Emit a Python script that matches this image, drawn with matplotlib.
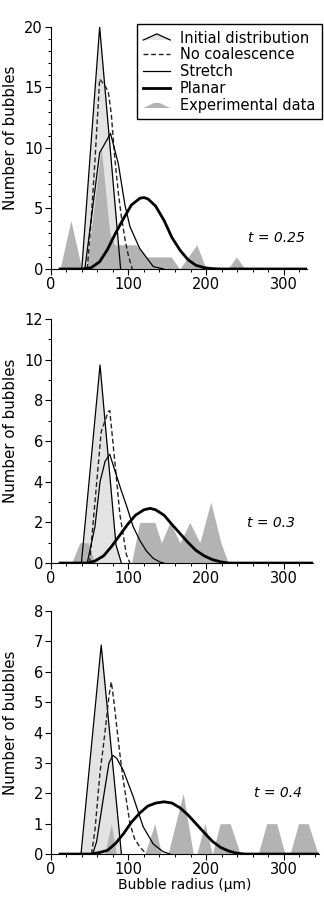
"""Bubble size distributions at three times: models vs. experiment."""

import matplotlib
matplotlib.use("Agg")
import matplotlib.pyplot as plt
from matplotlib.legend_handler import HandlerBase
from matplotlib.lines import Line2D
from matplotlib.patches import Polygon
from matplotlib.ticker import MultipleLocator

# ---- t = 0.25 ----
init_x_1 = [40, 63, 90]
init_y_1 = [0, 20, 0]
nocoal_x_1 = [47, 52, 57, 63, 68, 74, 78, 82, 87, 91, 96, 100, 105]
nocoal_y_1 = [0, 4, 9, 15.7, 15.3, 14.7, 12.8, 9.5, 6.3, 4.3, 2.3, 1.1, 0]
stretch_x_1 = [44, 63, 77, 87, 95.5, 102, 114.5, 132, 145.5]
stretch_y_1 = [0, 9.6, 11.2, 8.7, 5.3, 3.5, 1.7, 0.2, 0]
planar_x_1 = [12, 40, 52, 63, 73, 83, 94, 104, 115, 120, 125, 135, 146, 156, 167, 177, 187, 198, 208, 220, 330]
planar_y_1 = [0, 0, 0.1, 0.6, 1.6, 2.9, 4.2, 5.3, 5.85, 5.9, 5.8, 5.2, 4.0, 2.6, 1.5, 0.75, 0.3, 0.1, 0.03, 0, 0]
exp_x_1 = [12, 26, 40, 46, 65, 76, 82, 110, 123, 155, 166, 188, 200, 228, 239, 250]
exp_y_1 = [0, 4, 0, 0, 10, 3, 2, 2, 1, 1, 0, 2, 0, 0, 1, 0]

# ---- t = 0.3 ----
init_x_2 = [39.5, 63.5, 84, 91]
init_y_2 = [0, 9.74, 0.9, 0]
nocoal_x_2 = [50, 65, 74, 76, 82.5, 89, 97.5, 102]
nocoal_y_2 = [0, 6.46, 7.44, 7.5, 5.0, 2.4, 0.4, 0]
stretch_x_2 = [47, 57, 63.5, 70, 76, 83, 90.5, 98, 106, 114.5, 123, 132, 140.5, 145.5]
stretch_y_2 = [0, 1.8, 4.0, 5.0, 5.35, 4.5, 3.6, 2.77, 1.8, 1.13, 0.6, 0.23, 0.05, 0]
planar_x_2 = [12, 47, 57, 68, 78, 88.5, 99, 109, 120, 128, 135, 146, 156, 166.5, 177, 187, 197.7, 208, 218.5, 229, 340]
planar_y_2 = [0, 0, 0.1, 0.35, 0.8, 1.35, 1.9, 2.35, 2.62, 2.69, 2.62, 2.35, 1.9, 1.45, 1.0, 0.62, 0.35, 0.17, 0.06, 0, 0]
exp_x_2 = [27, 37.5, 48, 57, 104, 114.5, 134, 142.5, 153.5, 166.5, 179, 192, 206, 219, 228.5]
exp_y_2 = [0, 1, 1, 0, 0, 2, 2, 1, 2, 1, 2, 1, 3, 1, 0]

# ---- t = 0.4 ----
init_x_3 = [39, 65, 91]
init_y_3 = [0, 6.88, 0]
nocoal_x_3 = [52.5, 57, 63.5, 67.5, 72, 75, 78, 81, 85, 89, 93, 96, 102, 108, 114.5, 123]
nocoal_y_3 = [0, 0.8, 2.7, 3.5, 4.5, 5.2, 5.67, 5.1, 4.2, 3.3, 2.5, 2.0, 1.0, 0.5, 0.24, 0]
stretch_x_3 = [54, 59, 64.5, 70, 75, 80, 85, 93.5, 106, 119, 132, 144.5, 153.5]
stretch_y_3 = [0, 0.4, 1.3, 2.2, 3.0, 3.25, 3.15, 2.75, 1.9, 0.9, 0.33, 0.08, 0]
planar_x_3 = [12, 52, 62.7, 73, 83.5, 94, 104, 114.6, 125, 135.4, 146, 156, 166.6, 177, 187, 197.7, 208, 218.5, 229, 239, 250, 345]
planar_y_3 = [0, 0, 0.05, 0.12, 0.35, 0.68, 1.05, 1.35, 1.58, 1.68, 1.72, 1.68, 1.52, 1.28, 1.0, 0.7, 0.42, 0.22, 0.1, 0.03, 0, 0]
exp_x_3 = [69.5, 78, 84.5, 121, 134, 142.5, 151, 170.5, 183.5, 188, 198.5, 208, 218, 231, 244,
           267, 278, 291, 301.5, 308, 319, 331.5, 344]
exp_y_3 = [0, 1, 0, 0, 1, 0, 0, 2, 0, 0, 1, 0, 1, 1, 0,
           0, 1, 1, 0, 0, 1, 1, 0]

LIGHT = "#e3e3e3"
DARK = "#b3b3b3"


class CaretHandler(HandlerBase):
    def create_artists(self, legend, orig_handle, xdescent, ydescent, width, height, fontsize, trans):
        x0, y0 = -xdescent, -ydescent
        xs = [x0, x0 + width / 2, x0 + width]
        ys = [y0 + 0.25 * height, y0 + 0.85 * height, y0 + 0.25 * height]
        fill = Polygon(list(zip(xs, ys)), closed=True, facecolor=LIGHT, edgecolor="none", transform=trans)
        line = Line2D(xs, ys, color="black", lw=0.9, transform=trans)
        return [fill, line]


class MountainHandler(HandlerBase):
    def create_artists(self, legend, orig_handle, xdescent, ydescent, width, height, fontsize, trans):
        x0, y0 = -xdescent, -ydescent
        pts = [(x0, y0 + 0.15 * height), (x0 + 0.4 * width, y0 + 0.65 * height),
               (x0 + 0.6 * width, y0 + 0.65 * height), (x0 + width, y0 + 0.15 * height)]
        return [Polygon(pts, closed=True, facecolor=DARK, edgecolor="none", transform=trans)]


def draw_panel(ax, init, nocoal, stretch, planar, exp, xmax, ymax, ymajor, yminor):
    ax.fill_between(init[0], init[1], color=LIGHT, lw=0, zorder=1)
    ax.fill_between(exp[0], exp[1], color=DARK, lw=0, zorder=2)
    ax.plot(init[0], init[1], color="black", lw=0.9, zorder=3)
    nc, = ax.plot(nocoal[0], nocoal[1], color="#222222", lw=1.0, dashes=(3.5, 2), zorder=4)
    st, = ax.plot(stretch[0], stretch[1], color="black", lw=0.9, zorder=4)
    pl, = ax.plot(planar[0], planar[1], color="black", lw=2.0, zorder=5)

    ax.set_xlim(0, xmax)
    ax.set_ylim(0, ymax)
    ax.xaxis.set_major_locator(MultipleLocator(100))
    ax.xaxis.set_minor_locator(MultipleLocator(20))
    ax.yaxis.set_major_locator(MultipleLocator(ymajor))
    if yminor:
        ax.yaxis.set_minor_locator(MultipleLocator(yminor))
    for side in ("top", "right"):
        ax.spines[side].set_visible(False)
    for side in ("left", "bottom"):
        ax.spines[side].set_linewidth(0.8)
    ax.tick_params(which="major", direction="out", length=4, width=0.8, labelsize=10.5, pad=1.5)
    ax.tick_params(which="minor", direction="out", length=2.5, width=0.7)
    ax.set_ylabel("Number of bubbles", fontsize=10.8)
    ax.yaxis.set_label_coords(-18 / (xmax * 0.777) * 1.8, 0.5)
    return nc, st, pl


fig = plt.figure(figsize=(3.24, 8.99), dpi=100)
left = 50.7 / 324
ax1 = fig.add_axes([left, 0.7008, 330 * 0.777 / 324, 0.2692])
ax2 = fig.add_axes([left, 0.3737, 337.6 * 0.777 / 324, 0.2714])
ax3 = fig.add_axes([left, 0.0500, 345 * 0.777 / 324, 0.2703])

nc, st, pl = draw_panel(ax1, (init_x_1, init_y_1), (nocoal_x_1, nocoal_y_1), (stretch_x_1, stretch_y_1),
                        (planar_x_1, planar_y_1), (exp_x_1, exp_y_1), 330, 20, 5, 1)
draw_panel(ax2, (init_x_2, init_y_2), (nocoal_x_2, nocoal_y_2), (stretch_x_2, stretch_y_2),
           (planar_x_2, planar_y_2), (exp_x_2, exp_y_2), 337.6, 12, 2, 1)
draw_panel(ax3, (init_x_3, init_y_3), (nocoal_x_3, nocoal_y_3), (stretch_x_3, stretch_y_3),
           (planar_x_3, planar_y_3), (exp_x_3, exp_y_3), 345, 8, 1, None)

for ax, w in ((ax1, 330), (ax2, 337.6), (ax3, 345)):
    ax.yaxis.set_label_coords(-(50.7 - 18) / (w * 0.777), 0.54)

ax1.text(327, 2.6, "t = 0.25", style="italic", fontsize=10, ha="right", va="center")
ax2.text(314, 1.97, "t = 0.3", style="italic", fontsize=10, ha="right", va="center")
ax3.text(323, 2.0, "t = 0.4", style="italic", fontsize=10, ha="right", va="center")

ax3.set_xlabel("Bubble radius (\u03bcm)", fontsize=10, labelpad=1)

init_proxy = Polygon([[0, 0]])
exp_proxy = Polygon([[0, 0]])
fig.legend([init_proxy, nc, st, pl, exp_proxy],
           ["Initial distribution", "No coalescence", "Stretch", "Planar", "Experimental data"],
           handler_map={init_proxy: CaretHandler(), exp_proxy: MountainHandler()},
           loc="upper right", bbox_to_anchor=(321.7 / 324, 1 - 24 / 899),
           fontsize=10.5, frameon=True, fancybox=False, framealpha=1, edgecolor="black",
           borderpad=0.45, labelspacing=0.12, handlelength=1.85, handletextpad=0.65, borderaxespad=0)

fig.savefig("out.png", dpi=100)
